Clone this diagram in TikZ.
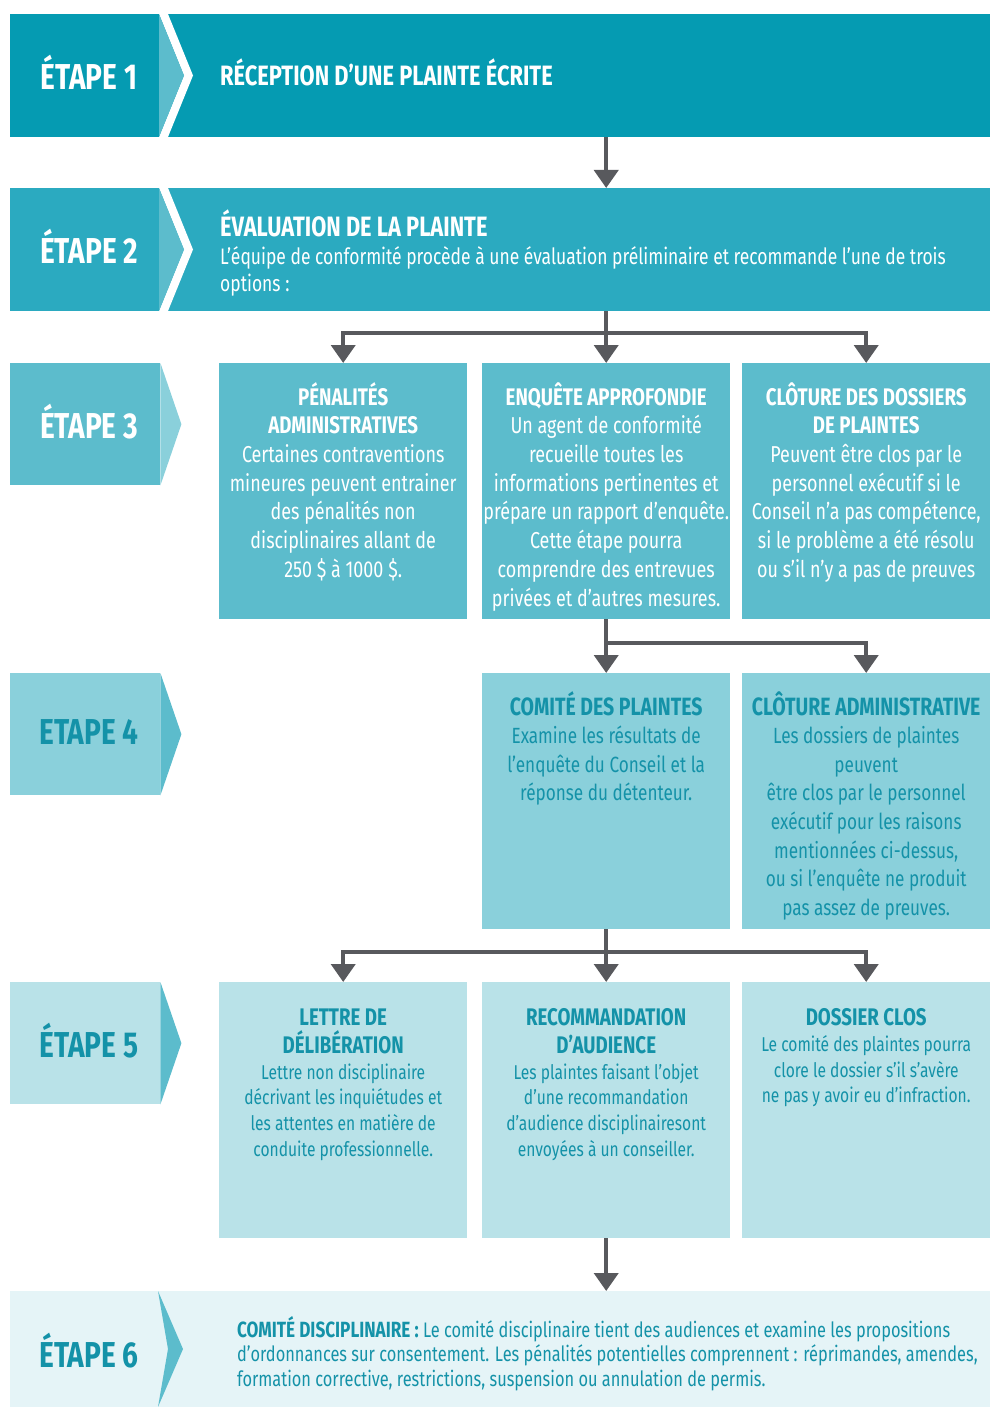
\documentclass[tikz,border=0pt]{standalone}
\usepackage{fontspec}
\setmainfont{Fira Sans}[FakeStretch=0.78]
\usetikzlibrary{arrows.meta,calc}
\definecolor{c1}{RGB}{5,155,178}
\definecolor{c2}{RGB}{43,170,192}
\definecolor{c3}{RGB}{92,188,204}
\definecolor{c4}{RGB}{138,208,219}
\definecolor{c5}{RGB}{185,226,232}
\definecolor{c6}{RGB}{229,244,247}
\definecolor{tealtext}{RGB}{20,146,168}
\definecolor{arrowgray}{RGB}{88,89,93}
\newcommand{\ph}{\vphantom{ÉÔ}}
\newcommand{\tta}{\bfseries\fontsize{24}{28.7}\selectfont}
\newcommand{\ttb}{\bfseries\fontsize{25}{28.6}\selectfont}
\newcommand{\ttc}{\bfseries\fontsize{24}{25.6}\selectfont}
\begin{document}
\begin{tikzpicture}[x=1pt,y=-1pt,
  band/.style={inner sep=0, anchor=north west, minimum width=980pt, minimum height=123pt},
  tab/.style={inner sep=0, anchor=north west, minimum width=150pt, minimum height=122pt},
  box/.style={inner sep=0, anchor=north west, minimum width=248pt, minimum height=256pt},
  steplabel/.style={font=\bfseries\fontsize{36}{40}\selectfont, inner sep=0},
  txt3/.style={font=\fontsize{23}{28.7}\selectfont, align=center, inner sep=0, anchor=north},
  txt4/.style={font=\fontsize{22}{28.6}\selectfont, align=center, inner sep=0, anchor=north},
  txt5/.style={font=\fontsize{20}{25.6}\selectfont, align=center, inner sep=0, anchor=north},
  conn/.style={draw=arrowgray, line width=4pt},
  arr/.style={conn, -{Triangle[width=24pt,length=18pt]}}
]
\useasboundingbox (0,0) rectangle (991,1407);

% ---------- Step 1
\node[band, fill=c1] (s1) at (10,14) {};
\fill[white] (159,14) -- (168,14) -- (193,75.5) -- (168,137) -- (159,137) -- (184,75.5) -- cycle;
\fill[c3] (159,14) -- (184,75.5) -- (159,137) -- cycle;
\node[steplabel, text=white] (l1) at (89,72) {ÉTAPE 1};
\node[font=\bfseries\fontsize{28}{30}\selectfont, text=white, anchor=west, inner sep=0] (s1t) at (220,72) {RÉCEPTION D'UNE PLAINTE ÉCRITE};

% ---------- Step 2
\node[band, fill=c2] (s2) at (10,188) {};
\fill[white] (159,188) -- (168,188) -- (193,249.5) -- (168,311) -- (159,311) -- (184,249.5) -- cycle;
\fill[c3] (159,188) -- (184,249.5) -- (159,311) -- cycle;
\node[steplabel, text=white] (l2) at (89,246) {ÉTAPE 2};
\node[font=\bfseries\fontsize{28}{30}\selectfont, text=white, anchor=west, inner sep=0] (s2t) at (220,223) {ÉVALUATION DE LA PLAINTE};
\node[font=\fontsize{22.4}{27}\selectfont, text=white, anchor=north west, align=left, inner sep=0] (s2x) at (220,246) {L'équipe de conformité procède à une évaluation préliminaire et recommande l'une de trois\\options :};

% ---------- Step 3
\node[tab, fill=c3] (t3) at (10,363) {};
\fill[c4] (t3.north east) -- ($(t3.east)+(21,0)$) -- (t3.south east) -- cycle;
\node[steplabel, text=white] (l3) at (89,422) {ÉTAPE 3};

\node[box, fill=c3] (b31) at (219,363) {};
\node[box, fill=c3] (b32) at (482,363) {};
\node[box, fill=c3] (b33) at (742,363) {};

\node[txt3, text=white] (b31x) at ($(b31.north)+(0,19)$) {{\tta\ph PÉNALITÉS}\\{\tta ADMINISTRATIVES}\\Certaines contraventions\\mineures peuvent entrainer\\des pénalités non\\disciplinaires allant de\\250 \$ à 1000 \$.};

\node[txt3, text=white] (b32x) at ($(b32.north)+(0,19)$) {{\tta\ph ENQUÊTE APPROFONDIE}\\Un agent de conformité\\recueille toutes les\\informations pertinentes et\\prépare un rapport d'enquête.\\Cette étape pourra\\comprendre des entrevues\\privées et d'autres mesures.};

\node[txt3, text=white] (b33x) at ($(b33.north)+(0,19)$) {{\tta\ph CLÔTURE DES DOSSIERS}\\{\tta DE PLAINTES}\\Peuvent être clos par le\\personnel exécutif si le\\Conseil n'a pas compétence,\\si le problème a été résolu\\ou s'il n'y a pas de preuves};

% ---------- Step 4
\node[tab, fill=c4] (t4) at (10,673) {};
\fill[c3] (t4.north east) -- ($(t4.east)+(21,0)$) -- (t4.south east) -- cycle;
\node[steplabel, text=tealtext] (l4) at (89,732) {ETAPE 4};

\node[box, fill=c4] (b42) at (482,673) {};
\node[box, fill=c4] (b43) at (742,673) {};

\node[txt4, text=tealtext] (b42x) at ($(b42.north)+(0,18)$) {{\ttb\ph COMITÉ DES PLAINTES}\\Examine les résultats de\\l'enquête du Conseil et la\\réponse du détenteur.};

\node[txt4, text=tealtext] (b43x) at ($(b43.north)+(0,18)$) {{\ttb\ph CLÔTURE ADMINISTRATIVE}\\Les dossiers de plaintes\\peuvent\\être clos par le personnel\\exécutif pour les raisons\\mentionnées ci-dessus,\\ou si l'enquête ne produit\\pas assez de preuves.};

% ---------- Step 5
\node[tab, fill=c5] (t5) at (10,982) {};
\fill[c3] (t5.north east) -- ($(t5.east)+(21,0)$) -- (t5.south east) -- cycle;
\node[steplabel, text=tealtext] (l5) at (89,1041) {ÉTAPE 5};

\node[box, fill=c5] (b51) at (219,982) {};
\node[box, fill=c5] (b52) at (482,982) {};
\node[box, fill=c5] (b53) at (742,982) {};

\node[txt5, text=tealtext] (b51x) at ($(b51.north)+(0,20)$) {{\ttc\ph LETTRE DE}\\[3pt]{\ttc DÉLIBÉRATION}\\Lettre non disciplinaire\\décrivant les inquiétudes et\\les attentes en matière de\\conduite professionnelle.};

\node[txt5, text=tealtext] (b52x) at ($(b52.north)+(0,20)$) {{\ttc\ph RECOMMANDATION}\\[3pt]{\ttc D'AUDIENCE}\\Les plaintes faisant l'objet\\d'une recommandation\\d'audience disciplinairesont\\envoyées à un conseiller.};

\node[txt5, text=tealtext] (b53x) at ($(b53.north)+(0,20)$) {{\ttc\ph DOSSIER CLOS}\\[1pt]Le comité des plaintes pourra\\clore le dossier s'il s'avère\\ne pas y avoir eu d'infraction.};

% ---------- Step 6
\node[inner sep=0, anchor=north west, minimum width=980pt, minimum height=116pt, fill=c6] (s6) at (10,1291) {};
\fill[c3] (158,1291) -- (183,1349) -- (158,1407) -- (168,1349) -- cycle;
\node[steplabel, text=tealtext] (l6) at (89,1351) {ÉTAPE 6};
\node[font=\fontsize{21}{24.5}\selectfont, text=tealtext, anchor=north west, align=left, inner sep=0] (s6x) at (237,1316) {{\bfseries\fontsize{22}{24.5}\selectfont COMITÉ DISCIPLINAIRE :} Le comité disciplinaire tient des audiences et examine les propositions\\d'ordonnances sur consentement. Les pénalités potentielles comprennent : réprimandes, amendes,\\formation corrective, restrictions, suspension ou annulation de permis.};

% ---------- Connectors
\draw[arr] (s1.south -| b32.north) -- (s2.north -| b32.north);

\draw[conn] (s2.south -| b32.north) -- ++(0,22) coordinate (j2);
\draw[arr] (j2) -| (b31.north);
\draw[arr] (j2) -| (b33.north);
\draw[arr] (j2) -- (b32.north);

\draw[conn] (b32.south) -- ++(0,24) coordinate (j3);
\draw[arr] (j3) -- (b42.north);
\draw[arr] (j3) -| (b43.north);

\draw[conn] (b42.south) -- ++(0,23) coordinate (j4);
\draw[arr] (j4) -| (b51.north);
\draw[arr] (j4) -- (b52.north);
\draw[arr] (j4) -| (b53.north);

\draw[arr] (b52.south) -- (s6.north -| b52.south);
\end{tikzpicture}
\end{document}
